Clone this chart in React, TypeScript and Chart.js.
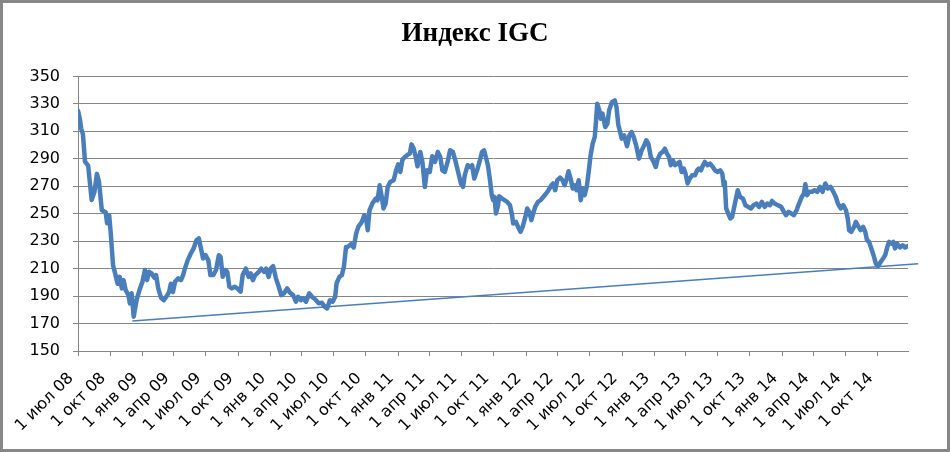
import React, { useEffect, useRef } from "react";
import Chart from "chart.js/auto";

const TITLE = "Индекс IGC";

const tickLabels = [
  "1 июл 08", "1 окт 08", "1 янв 09", "1 апр 09", "1 июл 09", "1 окт 09",
  "1 янв 10", "1 апр 10", "1 июл 10", "1 окт 10", "1 янв 11", "1 апр 11",
  "1 июл 11", "1 окт 11", "1 янв 12", "1 апр 12", "1 июл 12", "1 окт 12",
  "1 янв 13", "1 апр 13", "1 июл 13", "1 окт 13", "1 янв 14", "1 апр 14",
  "1 июл 14", "1 окт 14",
];

// days since 1 Jul 2008
const dayOffsets = [
  0, 6, 9, 14, 20, 29, 39, 47, 54, 60, 68, 79, 83, 89, 94, 100, 106, 113, 119, 125,
  130, 136, 144, 148, 153, 159, 163, 168, 177, 184, 191, 197, 203, 210, 218, 223, 229, 237, 245, 252,
  260, 265, 271, 277, 286, 294, 300, 305, 313, 322, 330, 338, 345, 351, 357, 364, 372, 378, 386, 394,
  402, 407, 413, 420, 426, 432, 439, 447, 455, 464, 470, 479, 487, 493, 499, 506, 516, 523, 531, 537,
  544, 550, 557, 565, 573, 580, 588, 597, 605, 614, 622, 628, 636, 643, 651, 660, 668, 677, 687, 696,
  704, 711, 719, 727, 734, 738, 746, 753, 759, 765, 770, 779, 787, 794, 800, 810, 817, 823, 827, 832,
  840, 850, 855, 861, 867, 872, 878, 884, 891, 901, 908, 914, 920, 926, 933, 941, 947, 952, 958, 964,
  969, 977, 983, 990, 996, 1004, 1011, 1019, 1027, 1034, 1040, 1047, 1055, 1062, 1070, 1078, 1085, 1093, 1099, 1104,
  1112, 1120, 1125, 1131, 1139, 1146, 1153, 1159, 1164, 1170, 1176, 1181, 1185, 1189, 1193, 1199, 1202, 1210, 1218, 1225,
  1233, 1239, 1242, 1250, 1256, 1263, 1269, 1277, 1282, 1288, 1294, 1299, 1305, 1313, 1320, 1328, 1336, 1343, 1351, 1356,
  1362, 1368, 1376, 1383, 1389, 1395, 1400, 1406, 1412, 1418, 1423, 1429, 1435, 1440, 1446, 1452, 1457, 1463, 1469, 1475,
  1478, 1482, 1488, 1492, 1497, 1505, 1511, 1516, 1524, 1532, 1537, 1542, 1552, 1559, 1567, 1574, 1580, 1586, 1593, 1601,
  1609, 1616, 1622, 1628, 1635, 1643, 1649, 1654, 1662, 1669, 1675, 1681, 1687, 1692, 1698, 1704, 1711, 1717, 1723, 1729,
  1734, 1740, 1746, 1753, 1761, 1767, 1772, 1778, 1784, 1789, 1797, 1804, 1812, 1818, 1826, 1833, 1839, 1843, 1846, 1850,
  1856, 1862, 1867, 1875, 1883, 1890, 1898, 1905, 1913, 1921, 1928, 1937, 1944, 1952, 1960, 1967, 1975, 1981, 1988, 1998,
  2007, 2015, 2021, 2028, 2036, 2043, 2051, 2058, 2066, 2072, 2076, 2081, 2087, 2095, 2102, 2110, 2118, 2125, 2133, 2140,
  2148, 2156, 2163, 2169, 2177, 2184, 2192, 2197, 2201, 2207, 2215, 2220, 2228, 2234, 2241, 2247, 2252, 2258, 2266, 2272,
  2277, 2283, 2291, 2298, 2304, 2310, 2315, 2321, 2327, 2332, 2338, 2346, 2354, 2361, 2369,
];

const indexValues = [
  325, 318, 312, 308, 288, 285, 260, 266, 279, 273, 252.5, 251, 243, 249, 234, 212.5, 206.5, 199, 204, 195.6,
  201.6, 194.4, 190.7, 184.7, 192, 175, 181, 188, 195.6, 200.4, 209, 201.6, 207.7, 206.5, 203.3, 205.3, 195.6, 188.8, 187, 189.5,
  193, 199, 193, 200.4, 202.9, 201.6, 205.3, 210, 216, 221, 224.7, 230.7, 232, 224.7, 217.4, 219.8, 216, 205.3, 205.3, 209,
  219.8, 218.6, 204, 209, 207.7, 196.8, 195.6, 196.8, 195.6, 193.2, 205.3, 210, 204, 206.5, 201.6, 205.3, 207.7, 210, 207.7, 210,
  204, 210, 211.8, 202.9, 196.8, 190.7, 192, 195.6, 192.4, 190.7, 185.9, 189.5, 187, 188.3, 185.9, 192, 189.5, 187.6, 184.7, 185.1,
  182.3, 181, 187, 185.9, 189.5, 199.2, 204, 205.3, 211.3, 225.8, 225.8, 227.8, 225.4, 235.6, 240.4, 244, 248.9, 245.3, 238, 252.5,
  257.4, 261, 259.8, 270.7, 262.2, 253.8, 257.4, 269.5, 273.1, 274.4, 281.6, 286, 280.4, 289.4, 291.3, 293, 293.8, 300.5, 297.4, 291.3,
  284.5, 295, 287.7, 269.5, 281.6, 280.4, 291.8, 287.7, 295, 291.3, 281.6, 280.4, 287.7, 296.2, 295, 287.7, 280.4, 272, 269.5, 278,
  285.3, 284, 285.3, 275.6, 281.6, 287.7, 295, 296.2, 291.3, 285.3, 274.4, 263.5, 259.8, 262.2, 250.1, 256.2, 262.7, 261, 259.8, 258.6,
  256.2, 248.9, 242.9, 244, 240.4, 236.8, 240.4, 247.7, 253.8, 251.3, 245.3, 250.1, 255, 258.6, 259.8, 262.2, 264.7, 267.1, 270.7, 272,
  267.1, 274.4, 276.3, 274.4, 270.7, 275.6, 280.9, 275.6, 268.3, 270.7, 267.1, 274.4, 259.8, 268.3, 263.5, 269.5, 279.2, 292.5, 301, 305.9,
  315.6, 330.1, 325.3, 319.2, 322.9, 313.1, 315.6, 325.3, 331.3, 332.5, 327.7, 315, 304.7, 307.1, 299.1, 307.1, 309.5, 305.9, 299.8, 290.1,
  296.2, 299.8, 303.5, 301, 291.3, 287.7, 284, 289.4, 293.8, 295, 297.4, 293.8, 291.3, 285.3, 288.9, 285.3, 286.5, 287.7, 280.4, 282.9,
  279.2, 272, 275.6, 278, 278, 281.6, 282.9, 281.6, 285.3, 287.7, 285.3, 286.5, 284, 281.6, 280.4, 281.6, 279.2, 270.7, 273.1, 253.8,
  250.1, 246.5, 247.7, 257.4, 267.1, 262.2, 261, 256.2, 255, 253.8, 256.2, 257.4, 255, 258.6, 255, 257.4, 256.2, 259.3, 257.4, 256.2,
  255, 251.3, 248.9, 251.3, 250.1, 248.9, 252.5, 257.4, 262.2, 264.7, 271.5, 263.5, 265.9, 265.9, 267.1, 265.9, 269.5, 265.9, 272, 268.3,
  269.5, 265.9, 262.2, 257.4, 253.8, 256.2, 252.5, 246.5, 238, 236.8, 240.4, 244, 240.4, 238, 240.4, 236.8, 230.7, 229.5, 223.4, 218.6,
  213.8, 211.8, 214.9, 217.4, 219.8, 225.8, 229.5, 228.2, 229.5, 224.7, 228.2, 225.4, 227, 225.4, 226.4,
];

const trendDays = [155, 2398];
const trendValues = [171.8, 213.5];

const yMin = 150;
const yMax = 350;
const yStep = 20;

const BLUE = "#4A7EBB";
const GRID = "#868686";
const TICK_FONT = { family: "'DejaVu Sans', sans-serif", size: 16, lineHeight: 1.2 };

const DAY = 86400000;
const base = Date.UTC(2008, 6, 1);
const tickDays = tickLabels.map((_, i) => Math.round((Date.UTC(2008, 6 + 3 * i, 1) - base) / DAY));

export default function App() {
  const ref = useRef<HTMLCanvasElement | null>(null);

  useEffect(() => {
    if (!ref.current) return;
    const chart = new Chart(ref.current, {
      type: "line",
      data: {
        datasets: [
          {
            label: "IGC",
            data: dayOffsets.map((d, i) => ({ x: d, y: indexValues[i] })),
            borderColor: BLUE,
            borderWidth: 4.5,
            pointRadius: 0,
            tension: 0,
            borderJoinStyle: "round",
            borderCapStyle: "round",
            fill: false,
            yAxisID: "y",
          },
          {
            label: "trend",
            data: trendDays.map((d, i) => ({ x: d, y: trendValues[i] })),
            borderColor: BLUE,
            borderWidth: 1.5,
            pointRadius: 0,
            tension: 0,
            fill: false,
            clip: false,
            yAxisID: "y",
          },
        ],
      },
      options: {
        animation: false,
        responsive: false,
        maintainAspectRatio: false,
        devicePixelRatio: 1,
        layout: { padding: { left: 0, right: 0, top: 0, bottom: 0 } },
        plugins: {
          legend: { display: false },
          tooltip: { enabled: false },
          title: {
            display: true,
            text: TITLE,
            color: "#000",
            font: { family: "'Liberation Serif', 'Times New Roman', serif", size: 27, weight: "bold", lineHeight: 1.2 },
            padding: { top: 18, bottom: 26 },
          },
        },
        scales: {
          x: {
            type: "linear",
            min: 0,
            max: Math.max(...dayOffsets),
            afterBuildTicks: (scale: any) => {
              scale.ticks = tickDays.map((v) => ({ value: v }));
            },
            afterFit: (scale: any) => {
              scale.height = 101;
            },
            grid: { drawOnChartArea: false, drawTicks: true, tickLength: 5, color: GRID, lineWidth: 1 },
            border: { display: true, color: GRID, width: 1 },
            ticks: {
              autoSkip: false,
              minRotation: 45,
              maxRotation: 45,
              padding: 13,
              labelOffset: -7,
              color: "#000",
              font: TICK_FONT,
              callback: (value: any) => {
                const idx = tickDays.indexOf(Number(value));
                return idx >= 0 ? tickLabels[idx] : "";
              },
            },
          },
          y: {
            position: "left",
            min: yMin,
            max: yMax,
            afterFit: (scale: any) => {
              scale.width = 78;
            },
            grid: { color: GRID, drawTicks: true, tickLength: 5, lineWidth: 1 },
            border: { display: true, color: GRID, width: 1 },
            ticks: { stepSize: yStep, padding: 13, color: "#000", font: TICK_FONT },
          },
          spacer: {
            type: "linear",
            axis: "y",
            position: "right",
            display: true,
            afterFit: (scale: any) => {
              scale.width = 42;
            },
            grid: { display: false, drawOnChartArea: false, drawTicks: false },
            border: { display: false },
            ticks: { display: false },
          },
        },
      },
    } as any);
    return () => chart.destroy();
  }, []);

  return (
    <div style={{ position: "fixed", left: 0, top: 0, width: 950, height: 452, background: "#fff" }}>
      <canvas ref={ref} width={950} height={452} style={{ position: "absolute", left: 0, top: 0, width: 950, height: 452 }} />
      <div
        style={{
          position: "absolute",
          left: 0,
          top: 0,
          width: 950,
          height: 452,
          boxSizing: "border-box",
          border: "3px solid #878787",
          pointerEvents: "none",
        }}
      />
    </div>
  );
}
